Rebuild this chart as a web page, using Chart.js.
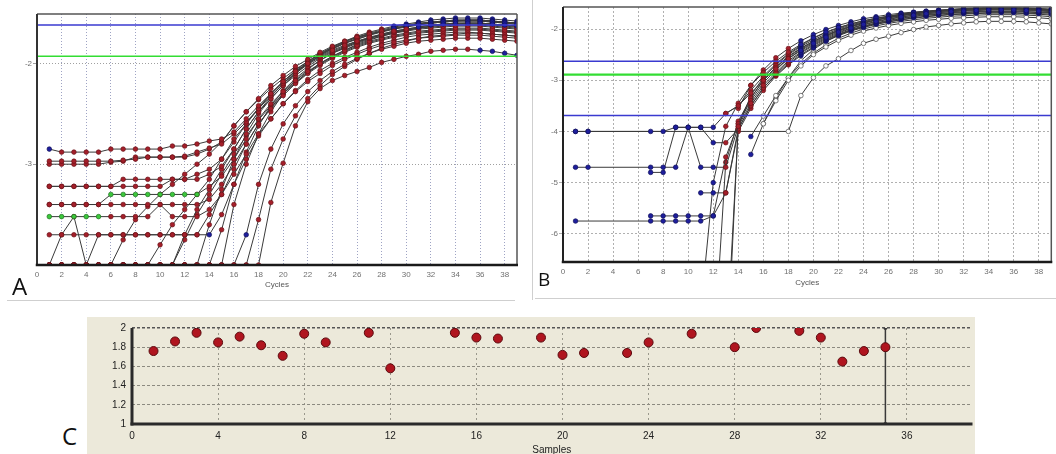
<!DOCTYPE html>
<html><head><meta charset="utf-8">
<script src="https://cdn.jsdelivr.net/npm/chart.js@4.4.1/dist/chart.umd.min.js"></script>
<style>
body{margin:0;background:#fff;width:1056px;height:454px;overflow:hidden;position:relative}
canvas{position:absolute}
.lbl{position:absolute;font-family:"Open Sans","Liberation Sans",sans-serif;color:#111;line-height:1}
.sep{position:absolute;background:#cfcfcf}
#bgC{position:absolute;left:87px;top:317px;width:888px;height:137px;background:#ece9da}
</style></head><body>
<div class="sep" style="left:7px;top:300px;width:508px;height:1px"></div>
<div class="sep" style="left:532px;top:0px;width:1px;height:300px"></div>
<div class="sep" style="left:535px;top:298px;width:521px;height:1px"></div>
<div id="bgC"></div>
<canvas id="cA" width="530" height="300" style="left:0;top:0"></canvas>
<canvas id="cB" width="526" height="300" style="left:530px;top:0"></canvas>
<canvas id="cC" width="890" height="144" style="left:87px;top:316px"></canvas>
<div class="lbl" style="left:12px;top:274px;font-size:24px">A</div>
<div class="lbl" style="left:538px;top:270px;font-size:19px">B</div>
<div class="lbl" style="left:62px;top:424px;font-size:24px">C</div>
<script>
// ---------- DATA ----------
const cycles = [1,2,3,4,5,6,7,8,9,10,11,12,13,14,15,16,17,18,19,20,21,22,23,24,25,26,27,28,29,30,31,32,33,34,35,36,37,38,39];
const xTicksAB = [0,2,4,6,8,10,12,14,16,18,20,22,24,26,28,30,32,34,36,38];
const yTicksA = [-2,-3];
const yTicksB = [-2,-3,-4,-5,-6];
const thresholdsA = [-1.62,-1.93];
const thresholdsB = [-2.63,-2.89,-3.69];

const A1 = [-2.85,-2.88,-2.88,-2.88,-2.88,-2.85,-2.85,-2.85,-2.85,-2.85,-2.82,-2.82,-2.80,-2.77,-2.75,-2.68,-2.55,-2.42,-2.30,-2.18,-2.08,-2.00,-1.93,-1.87,-1.82,-1.78,-1.74,-1.71,-1.68,-1.66,-1.64,-1.62,-1.61,-1.60,-1.60,-1.60,-1.61,-1.62,-1.63];
const A2 = [-2.97,-2.97,-2.97,-2.97,-2.97,-2.97,-2.96,-2.95,-2.93,-2.93,-2.93,-2.92,-2.88,-2.84,-2.80,-2.70,-2.58,-2.45,-2.32,-2.20,-2.10,-2.01,-1.94,-1.88,-1.83,-1.78,-1.75,-1.72,-1.69,-1.67,-1.65,-1.64,-1.63,-1.62,-1.62,-1.62,-1.63,-1.64,-1.65];
const A3 = [-3.00,-3.00,-3.00,-3.00,-3.00,-2.98,-2.97,-2.93,-2.93,-2.93,-2.93,-2.93,-2.90,-2.85,-2.78,-2.62,-2.48,-2.35,-2.22,-2.12,-2.03,-1.96,-1.89,-1.83,-1.78,-1.74,-1.71,-1.68,-1.65,-1.63,-1.61,-1.60,-1.59,-1.58,-1.58,-1.58,-1.59,-1.60,-1.61];
const A4 = [-3.22,-3.22,-3.22,-3.22,-3.22,-3.22,-3.15,-3.15,-3.15,-3.15,-3.15,-3.15,-3.15,-3.10,-3.02,-2.85,-2.65,-2.48,-2.35,-2.22,-2.12,-2.03,-1.95,-1.89,-1.84,-1.79,-1.75,-1.72,-1.69,-1.67,-1.65,-1.63,-1.62,-1.61,-1.61,-1.61,-1.62,-1.63,-1.64];
const A5 = [-3.22,-3.22,-3.22,-3.22,-3.22,-3.22,-3.22,-3.22,-3.22,-3.22,-3.15,-3.15,-3.10,-3.05,-2.95,-2.75,-2.60,-2.45,-2.30,-2.18,-2.07,-1.98,-1.90,-1.84,-1.79,-1.74,-1.70,-1.67,-1.64,-1.62,-1.60,-1.59,-1.58,-1.57,-1.57,-1.57,-1.58,-1.59,-1.60];
const A6 = [-3.40,-3.40,-3.40,-3.40,-3.40,-3.30,-3.30,-3.30,-3.30,-3.30,-3.30,-3.30,-3.30,-3.22,-3.12,-2.95,-2.75,-2.55,-2.40,-2.28,-2.17,-2.08,-2.00,-1.93,-1.87,-1.82,-1.78,-1.75,-1.72,-1.70,-1.68,-1.67,-1.66,-1.65,-1.65,-1.65,-1.66,-1.67,-1.68];
const A7 = [-3.40,-3.40,-3.40,-3.40,-3.40,-3.40,-3.40,-3.40,-3.40,-3.40,-3.40,-3.40,-3.40,-3.35,-3.20,-3.00,-2.80,-2.60,-2.45,-2.32,-2.20,-2.10,-2.02,-1.95,-1.89,-1.84,-1.80,-1.77,-1.74,-1.72,-1.70,-1.69,-1.68,-1.67,-1.67,-1.67,-1.68,-1.69,-1.70];
const A8 = [-3.52,-3.52,-3.52,-3.52,-3.52,-3.52,-3.52,-3.52,-3.52,-3.40,-3.52,-3.52,-3.52,-3.45,-3.30,-3.10,-2.90,-2.70,-2.55,-2.40,-2.28,-2.18,-2.10,-2.02,-1.96,-1.91,-1.86,-1.82,-1.79,-1.77,-1.75,-1.74,-1.73,-1.72,-1.72,-1.72,-1.73,-1.74,-1.75];
const A9 = [-3.70,-3.70,-3.70,-3.70,-3.70,-3.70,-3.70,-3.70,-3.70,-3.70,-3.70,-3.70,-3.70,-3.70,-3.50,-3.20,-2.95,-2.72,-2.55,-2.40,-2.27,-2.16,-2.07,-2.00,-1.94,-1.89,-1.84,-1.80,-1.77,-1.74,-1.72,-1.71,-1.70,-1.69,-1.69,-1.70,-1.71,-1.72,-1.73];
const A10 = [-4.00,-4.00,-4.00,-4.00,-4.00,-4.00,-4.00,-4.00,-4.00,-4.00,-4.00,-3.70,-3.45,-3.25,-3.05,-2.85,-2.65,-2.48,-2.33,-2.20,-2.09,-2.00,-1.92,-1.85,-1.80,-1.75,-1.71,-1.68,-1.65,-1.63,-1.61,-1.59,-1.58,-1.57,-1.57,-1.57,-1.58,-1.59,-1.60];
const A11 = [-4.00,-4.00,-4.00,-4.00,-4.00,-4.00,-4.00,-4.00,-4.00,-4.00,-4.00,-4.00,-4.00,-3.60,-3.25,-2.95,-2.70,-2.50,-2.35,-2.22,-2.10,-2.00,-1.92,-1.86,-1.80,-1.76,-1.72,-1.68,-1.66,-1.63,-1.61,-1.60,-1.59,-1.58,-1.58,-1.58,-1.59,-1.60,-1.61];
const A12 = [-4.00,-4.00,-4.00,-4.00,-4.00,-4.00,-4.00,-4.00,-4.00,-4.00,-4.00,-4.00,-4.00,-4.00,-4.00,-3.40,-3.00,-2.70,-2.48,-2.30,-2.17,-2.06,-1.97,-1.90,-1.84,-1.79,-1.75,-1.71,-1.68,-1.66,-1.64,-1.62,-1.61,-1.60,-1.60,-1.60,-1.61,-1.62,-1.63];
const A13 = [-4.00,-4.00,-4.00,-4.00,-4.00,-4.00,-4.00,-4.00,-4.00,-4.00,-4.00,-4.00,-4.00,-4.00,-4.00,-4.00,-4.00,-4.00,-3.38,-2.99,-2.62,-2.38,-2.25,-2.17,-2.12,-2.08,-2.04,-1.99,-1.96,-1.93,-1.91,-1.88,-1.87,-1.86,-1.86,-1.87,-1.88,-1.90,-1.92];
const A14 = [-4.00,-4.00,-4.00,-4.00,-4.00,-4.00,-4.00,-4.00,-4.00,-4.00,-4.00,-4.00,-4.00,-4.00,-4.00,-4.00,-3.70,-3.20,-2.85,-2.60,-2.42,-2.28,-2.17,-2.08,-2.01,-1.95,-1.90,-1.86,-1.83,-1.80,-1.78,-1.77,-1.76,-1.75,-1.75,-1.75,-1.76,-1.77,-1.78];
const A15 = [-4.00,-4.00,-4.00,-4.00,-4.00,-4.00,-4.00,-4.00,-4.00,-3.80,-3.60,-3.45,-3.30,-3.15,-2.95,-2.78,-2.60,-2.44,-2.30,-2.18,-2.08,-1.99,-1.91,-1.84,-1.78,-1.73,-1.69,-1.66,-1.63,-1.61,-1.59,-1.57,-1.56,-1.55,-1.55,-1.55,-1.56,-1.57,-1.58];
const A16 = [-4.00,-4.00,-4.00,-4.00,-4.00,-4.00,-4.00,-4.00,-4.00,-4.00,-4.00,-4.00,-4.00,-4.00,-3.65,-3.20,-2.88,-2.62,-2.42,-2.27,-2.15,-2.05,-1.97,-1.90,-1.85,-1.80,-1.76,-1.73,-1.70,-1.68,-1.66,-1.65,-1.64,-1.63,-1.63,-1.63,-1.64,-1.65,-1.66];
const A17 = [-4.00,-3.70,-3.52,-4.00,-3.70,-3.70,-3.70,-3.70,-3.70,-3.70,-3.70,-3.70,-3.70,-3.50,-3.30,-3.05,-2.80,-2.60,-2.44,-2.30,-2.19,-2.09,-2.01,-1.94,-1.88,-1.83,-1.79,-1.76,-1.73,-1.71,-1.69,-1.68,-1.67,-1.66,-1.66,-1.66,-1.67,-1.68,-1.69];
const A18 = [-4.00,-4.00,-4.00,-4.00,-4.00,-4.00,-3.75,-3.55,-3.42,-3.30,-3.20,-3.10,-3.00,-2.90,-2.78,-2.62,-2.48,-2.36,-2.25,-2.15,-2.06,-1.98,-1.91,-1.85,-1.80,-1.76,-1.72,-1.69,-1.66,-1.64,-1.62,-1.60,-1.59,-1.58,-1.57,-1.57,-1.58,-1.59,-1.60];
const A19 = [-4.00,-4.00,-4.00,-4.00,-4.00,-4.00,-4.00,-4.00,-4.00,-4.00,-4.00,-3.75,-3.50,-3.30,-3.10,-2.90,-2.72,-2.56,-2.42,-2.30,-2.19,-2.09,-2.00,-1.93,-1.87,-1.81,-1.77,-1.73,-1.70,-1.67,-1.65,-1.63,-1.62,-1.61,-1.60,-1.60,-1.61,-1.62,-1.63];
const A20 = [-4.00,-4.00,-4.00,-4.00,-4.00,-4.00,-4.00,-4.00,-4.00,-4.00,-4.00,-4.00,-4.00,-4.00,-4.00,-4.00,-4.00,-3.55,-3.05,-2.75,-2.52,-2.35,-2.22,-2.11,-2.03,-1.96,-1.90,-1.85,-1.81,-1.78,-1.75,-1.73,-1.72,-1.71,-1.70,-1.70,-1.71,-1.72,-1.73];

const B1 = [-4.00,-4.00,null,null,null,null,-4.00,-4.00,-3.92,-3.92,-3.92,-3.92,-3.65,-3.50,-3.25,-3.00,-2.78,-2.58,-2.42,-2.28,-2.16,-2.06,-1.98,-1.91,-1.85,-1.80,-1.76,-1.73,-1.70,-1.68,-1.66,-1.65,-1.64,-1.63,-1.63,-1.63,-1.64,-1.65,-1.66];
const B2 = [-4.70,-4.70,null,null,null,null,-4.70,-4.70,-4.70,-3.92,-4.70,-4.70,-4.70,-3.90,-3.45,-3.10,-2.85,-2.62,-2.45,-2.30,-2.18,-2.08,-1.99,-1.92,-1.86,-1.81,-1.77,-1.73,-1.70,-1.68,-1.66,-1.64,-1.63,-1.62,-1.62,-1.62,-1.63,-1.64,-1.65];
const B3 = [null,null,null,null,null,null,-4.80,-4.80,-3.92,-3.92,-3.92,-4.22,-4.22,-3.95,-3.50,-3.15,-2.88,-2.65,-2.47,-2.32,-2.20,-2.10,-2.01,-1.94,-1.88,-1.83,-1.79,-1.75,-1.72,-1.70,-1.68,-1.67,-1.66,-1.65,-1.65,-1.65,-1.66,-1.67,-1.68];
const B4 = [-5.75,null,null,null,null,null,-5.75,-5.75,-5.75,-5.75,-5.75,-5.65,-4.50,-3.85,-3.40,-3.05,-2.80,-2.58,-2.40,-2.26,-2.14,-2.04,-1.96,-1.89,-1.83,-1.78,-1.74,-1.71,-1.68,-1.66,-1.64,-1.63,-1.62,-1.61,-1.61,-1.61,-1.62,-1.63,-1.64];
const B5 = [null,null,null,null,null,null,-5.65,-5.65,-5.65,-5.65,-5.65,-5.65,-5.20,-3.95,-3.50,-3.15,-2.90,-2.68,-2.50,-2.35,-2.22,-2.11,-2.02,-1.95,-1.89,-1.84,-1.80,-1.76,-1.73,-1.71,-1.69,-1.68,-1.67,-1.66,-1.66,-1.66,-1.67,-1.68,-1.69];
const B6 = [null,null,null,null,null,null,null,null,null,null,-5.20,-5.20,-5.20,-4.00,-3.55,-3.20,-2.92,-2.70,-2.52,-2.37,-2.24,-2.13,-2.04,-1.97,-1.91,-1.86,-1.82,-1.78,-1.75,-1.73,-1.71,-1.70,-1.69,-1.68,-1.68,-1.68,-1.69,-1.70,-1.71];
const B7 = [null,null,null,null,null,null,null,null,null,null,-7.50,-5.00,-3.90,-3.45,-3.10,-2.85,-2.63,-2.45,-2.30,-2.17,-2.06,-1.97,-1.90,-1.84,-1.79,-1.75,-1.71,-1.68,-1.66,-1.64,-1.62,-1.61,-1.60,-1.59,-1.59,-1.59,-1.60,-1.61,-1.62];
const B8 = [null,null,null,null,null,null,null,null,null,null,null,-8.50,-4.60,-3.80,-3.35,-3.00,-2.75,-2.55,-2.38,-2.24,-2.12,-2.02,-1.94,-1.87,-1.82,-1.77,-1.73,-1.70,-1.67,-1.65,-1.63,-1.62,-1.61,-1.60,-1.60,-1.60,-1.61,-1.62,-1.63];
const B9 = [null,null,null,null,null,null,null,null,null,null,null,null,-8.50,-3.90,-3.30,-2.95,-2.70,-2.50,-2.34,-2.21,-2.10,-2.00,-1.92,-1.86,-1.80,-1.76,-1.72,-1.69,-1.66,-1.64,-1.62,-1.60,-1.59,-1.58,-1.58,-1.58,-1.59,-1.60,-1.61];
const B10 = [null,null,null,null,null,null,null,null,null,null,null,null,-9.00,-3.85,-3.35,-3.00,-2.74,-2.53,-2.37,-2.24,-2.13,-2.03,-1.95,-1.88,-1.82,-1.78,-1.74,-1.70,-1.68,-1.66,-1.64,-1.62,-1.61,-1.60,-1.60,-1.60,-1.61,-1.62,-1.63];
const B11 = [-4.00,-4.00,null,null,null,null,null,null,null,null,null,null,null,null,null,null,null,-4.00,-3.30,-2.95,-2.72,-2.58,-2.42,-2.28,-2.20,-2.14,-2.07,-2.01,-1.96,-1.93,-1.90,-1.88,-1.86,-1.85,-1.85,-1.85,-1.86,-1.88,-1.90];
const B12 = [null,null,null,null,null,null,null,null,null,null,null,null,null,null,-4.45,-3.85,-3.40,-3.00,-2.72,-2.50,-2.35,-2.22,-2.12,-2.04,-1.98,-1.93,-1.89,-1.86,-1.83,-1.81,-1.79,-1.78,-1.77,-1.76,-1.76,-1.76,-1.77,-1.78,-1.80];
const B13 = [null,null,null,null,null,null,null,null,null,null,null,null,null,null,-4.10,-3.70,-3.30,-2.95,-2.68,-2.47,-2.31,-2.18,-2.08,-2.00,-1.94,-1.89,-1.85,-1.82,-1.79,-1.77,-1.75,-1.74,-1.73,-1.72,-1.72,-1.72,-1.73,-1.74,-1.76];
const B14 = [null,null,null,null,null,null,null,null,null,null,null,null,-3.65,-3.50,-3.20,-2.92,-2.68,-2.48,-2.32,-2.18,-2.07,-1.98,-1.90,-1.84,-1.79,-1.75,-1.71,-1.68,-1.66,-1.64,-1.62,-1.61,-1.60,-1.59,-1.59,-1.59,-1.60,-1.61,-1.62];
const B15 = [null,null,null,null,null,null,null,null,null,null,null,null,null,-3.55,-3.10,-2.80,-2.56,-2.38,-2.23,-2.11,-2.01,-1.93,-1.86,-1.80,-1.76,-1.72,-1.69,-1.67,-1.65,-1.63,-1.62,-1.61,-1.60,-1.59,-1.59,-1.59,-1.60,-1.61,-1.62];
const B16 = [null,null,null,null,null,null,null,null,null,null,null,null,null,null,null,-3.85,-3.35,-2.95,-2.62,-2.40,-2.24,-2.12,-2.03,-1.96,-1.90,-1.86,-1.82,-1.79,-1.76,-1.74,-1.72,-1.71,-1.70,-1.69,-1.69,-1.69,-1.70,-1.71,-1.73];

const samples = [1,2,3,4,5,6,7,8,9,11,12,15,16,17,19,20,21,23,24,26,28,29,31,32,33,34,35];
const efficiency = [1.76,1.86,1.95,1.85,1.91,1.82,1.71,1.94,1.85,1.95,1.58,1.95,1.90,1.89,1.90,1.72,1.74,1.74,1.85,1.94,1.80,2.00,1.97,1.90,1.65,1.76,1.80];
const xTicksC = [0,4,8,12,16,20,24,28,32,36];
const yTicksC = [1,1.2,1.4,1.6,1.8,2];
const yTickLabelsC = ['1','1.2','1.4','1.6','1.8','2'];
const cursorSample = 35;

// ---------- STYLE HELPERS ----------
const RED='#a41f2a', BLUE='#1e1e9c', GREEN='#3cc83c', WHITE='#ffffff';
function edge(c){return c===WHITE?'#4a4a4a':c===RED?'#6a1218':c===BLUE?'#10105a':'#1d6e1d';}
function curve(vals, fn){
  const col = ctx => fn(ctx.raw ? ctx.raw.x : 0);
  return {data: cycles.map((c,i)=>({x:c,y:vals[i]})), borderColor:'#3a3a3a', borderWidth:1,
    pointRadius:2.3, pointBorderWidth:0.7, pointBackgroundColor: col,
    pointBorderColor: ctx => edge(col(ctx)), spanGaps:true, tension:0};
}
function hline(v, color, w){
  return {data:[{x:0,y:v},{x:39,y:v}], borderColor:color, borderWidth:w, pointRadius:0, tension:0};
}
function framePlugin(id, sides){
  return {id, afterDraw(chart){
    const {ctx, chartArea:a} = chart; ctx.save();
    sides.forEach(s=>{
      ctx.beginPath(); ctx.strokeStyle=s.c; ctx.lineWidth=s.w;
      if(s.side==='top'){ctx.moveTo(a.left,a.top);ctx.lineTo(a.right,a.top);}
      if(s.side==='bottom'){ctx.moveTo(a.left-s.w/2,a.bottom);ctx.lineTo(a.right+1,a.bottom);}
      if(s.side==='left'){ctx.moveTo(a.left,a.top);ctx.lineTo(a.left,a.bottom+s.w/2);}
      if(s.side==='right'){ctx.moveTo(a.right,a.top);ctx.lineTo(a.right,a.bottom);}
      ctx.stroke();
    });
    ctx.restore();
  }};
}
const tickFont = {family:'"Liberation Sans", Arial, sans-serif', size:8};
const common = {animation:false, responsive:false, devicePixelRatio:1, events:[],
  plugins:{legend:{display:false}, tooltip:{enabled:false}}};

// ---------- PANEL A ----------
const red = x=>RED;
const lateBlue = x=> x>=29 ? BLUE : RED;
const dsA = [
  hline(thresholdsA[0], '#3a3ad0', 1.5), hline(thresholdsA[1], '#33dd33', 1.5),
  curve(A1, x=> (x===1||x>=31) ? BLUE : RED), curve(A2, red), curve(A3, lateBlue), curve(A4, red),
  curve(A5, lateBlue), curve(A6, x=> (x>=6&&x<=13) ? GREEN : RED), curve(A7, red),
  curve(A8, x=> x<=5 ? GREEN : RED), curve(A9, x=> x===14 ? BLUE : RED), curve(A10, lateBlue),
  curve(A11, lateBlue), curve(A12, red), curve(A13, x=> x>=36 ? BLUE : RED),
  curve(A14, x=> x===17 ? BLUE : RED), curve(A15, lateBlue), curve(A16, red), curve(A17, red),
  curve(A18, lateBlue), curve(A19, lateBlue), curve(A20, red)
];
new Chart(document.getElementById('cA'), {type:'line', data:{datasets:dsA},
  options:Object.assign({}, common, {
    layout:{padding:{top:14,right:13,left:0,bottom:0}},
    scales:{
      x:{type:'linear', min:0, max:39,
        afterBuildTicks:s=>{s.ticks = xTicksAB.map(v=>({value:v}));}, afterFit:s=>{s.height=35;},
        ticks:{font:tickFont, color:'#707070', padding:5, maxRotation:0, autoSkip:false},
        grid:{color:'#9ea3c4', lineWidth:1, drawTicks:false}, border:{display:false, dash:[1,2]},
        title:{display:true, text:'Cycles', font:tickFont, color:'#555', padding:{top:0,bottom:10}}},
      y:{type:'linear', min:-4, max:-1.51,
        afterBuildTicks:s=>{s.ticks = yTicksA.map(v=>({value:v}));}, afterFit:s=>{s.width=37;},
        ticks:{font:tickFont, color:'#707070', padding:1},
        grid:{color:'#a0a0a0', lineWidth:1, drawTicks:true, tickLength:4}, border:{display:false, dash:[1,2]}}
    }}),
  plugins:[framePlugin('frameA',[{side:'top',c:'#555',w:1.5},{side:'right',c:'#555',w:1.5},{side:'left',c:'#333',w:2},{side:'bottom',c:'#1a1a1a',w:2.5}])]
});

// ---------- PANEL B ----------
const bFill = x=> x<=12 ? BLUE : (x<=18 ? RED : BLUE);
const bOpen = x=> x<=15 ? BLUE : WHITE;
const dsB = [
  hline(thresholdsB[0], '#3a3ad0', 1.5), hline(thresholdsB[1], '#33dd33', 2.2), hline(thresholdsB[2], '#3a3ad0', 1.5),
  curve(B1,bFill), curve(B2,bFill), curve(B3,bFill), curve(B4,bFill), curve(B5,bFill), curve(B6,bFill),
  curve(B7,bFill), curve(B8,bFill), curve(B9,bFill), curve(B10,bFill), curve(B11,bOpen), curve(B12,bOpen),
  curve(B13,bOpen), curve(B14,bFill), curve(B15,bFill), curve(B16,bOpen)
];
new Chart(document.getElementById('cB'), {type:'line', data:{datasets:dsB},
  options:Object.assign({}, common, {
    layout:{padding:{top:7,right:4,left:0,bottom:0}},
    scales:{
      x:{type:'linear', min:0, max:39,
        afterBuildTicks:s=>{s.ticks = xTicksAB.map(v=>({value:v}));}, afterFit:s=>{s.height=38;},
        ticks:{font:tickFont, color:'#707070', padding:5, maxRotation:0, autoSkip:false},
        grid:{color:'#b0b0b0', lineWidth:1, drawTicks:false}, border:{display:false, dash:[2,2]},
        title:{display:true, text:'Cycles', font:tickFont, color:'#555', padding:{top:0,bottom:12}}},
      y:{type:'linear', min:-6.55, max:-1.57,
        afterBuildTicks:s=>{s.ticks = yTicksB.map(v=>({value:v}));}, afterFit:s=>{s.width=33;},
        ticks:{font:tickFont, color:'#707070', padding:1},
        grid:{color:'#b0b0b0', lineWidth:1, drawTicks:true, tickLength:4}, border:{display:false, dash:[2,2]}}
    }}),
  plugins:[framePlugin('frameB',[{side:'top',c:'#555',w:1.5},{side:'right',c:'#555',w:1.5},{side:'left',c:'#222',w:2},{side:'bottom',c:'#1a1a1a',w:2.5}])]
});

// ---------- PANEL C ----------
const fontC = {family:'"Liberation Sans", Arial, sans-serif', size:10};
new Chart(document.getElementById('cC'), {type:'line', data:{datasets:[
    {data: samples.map((s,i)=>({x:s,y:efficiency[i]})), showLine:false, pointRadius:4.5,
     pointBackgroundColor:'#b0151f', pointBorderColor:'#5a0a0e', pointBorderWidth:1},
    {data:[{x:cursorSample,y:yTicksC[0]},{x:cursorSample,y:yTicksC[yTicksC.length-1]}], borderColor:'#3a3a3a',
     borderWidth:1.5, pointRadius:2, pointBackgroundColor:'#3a3a3a', pointBorderWidth:0}
  ]},
  options:Object.assign({}, common, {
    layout:{padding:{top:6,right:2,left:0,bottom:0}},
    scales:{
      x:{type:'linear', min:0, max:39,
        afterBuildTicks:s=>{s.ticks = xTicksC.map(v=>({value:v}));}, afterFit:s=>{s.height=36;},
        ticks:{font:fontC, color:'#222', padding:6, maxRotation:0, autoSkip:false},
        grid:{color:'#9a988c', lineWidth:1, drawTicks:false}, border:{display:false, dash:[2,3]},
        title:{display:true, text:'Samples', font:fontC, color:'#222', padding:{top:0,bottom:4}}},
      y:{type:'linear', min:1, max:2,
        afterBuildTicks:s=>{s.ticks = yTicksC.map(v=>({value:v}));}, afterFit:s=>{s.width=45;},
        ticks:{font:fontC, color:'#222', padding:6, callback:(v,i)=>yTickLabelsC[i]},
        grid:{color:ctx=> ctx.tick && ctx.tick.value===2 ? '#555' : '#8c8a80', lineWidth:ctx=> ctx.tick && ctx.tick.value===2 ? 1.5 : 1, drawTicks:false},
        border:{display:false, dash:[3,2]}}
    }}),
  plugins:[framePlugin('frameC',[{side:'left',c:'#2a2a2a',w:3},{side:'bottom',c:'#2a2a2a',w:3}])]
});
</script>
</body></html>
